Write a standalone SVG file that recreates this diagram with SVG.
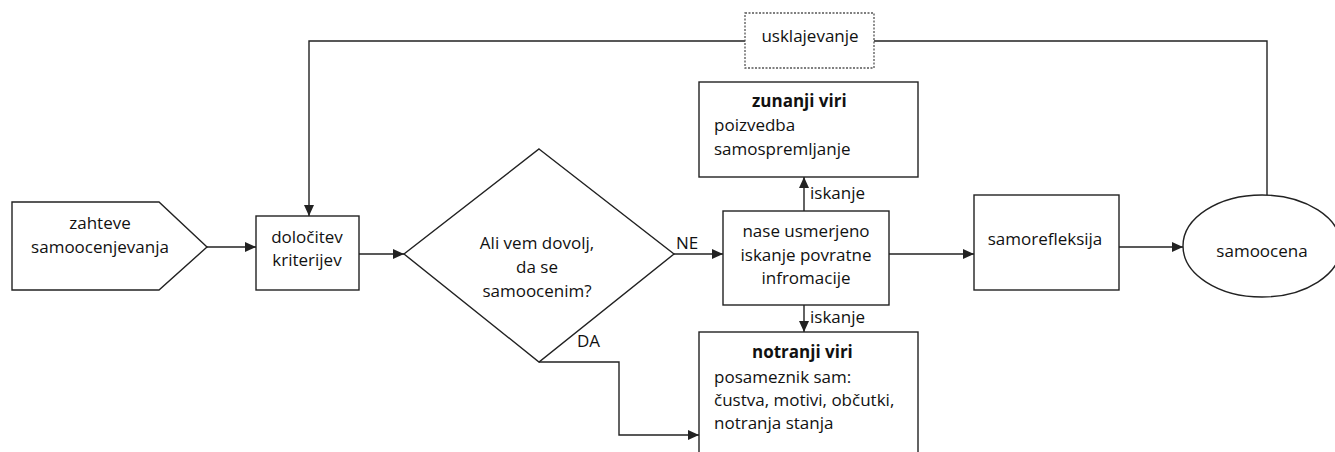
<svg xmlns="http://www.w3.org/2000/svg" width="1335" height="452" viewBox="0 0 1335 452">
<style>
  .shape { fill: #ffffff; stroke: #222222; stroke-width: 1.4; }
  .dash { fill: #ffffff; stroke: #555555; stroke-width: 1.3; stroke-dasharray: 2 1.5; }
  .conn { fill: none; stroke: #222222; stroke-width: 1.4; }
  text { font-family: "Open Sans", "Liberation Sans", sans-serif; font-size: 17px; fill: #111111; }
  .c { text-anchor: middle; }
  .b { font-weight: bold; }
</style>
<defs>
  <marker id="arr" markerUnits="userSpaceOnUse" markerWidth="11" markerHeight="10" refX="11" refY="5" orient="auto">
    <path d="M0,0 L11,5 L0,10 z" fill="#222222"/>
  </marker>
</defs>
<rect width="1335" height="452" fill="#ffffff"/>

<g id="connectors">
  <path class="conn" d="M207,247 H256" marker-end="url(#arr)"/>
  <path class="conn" d="M359,254 H404" marker-end="url(#arr)"/>
  <path class="conn" d="M674,254 H723" marker-end="url(#arr)"/>
  <path class="conn" d="M804,211 V177" marker-end="url(#arr)"/>
  <path class="conn" d="M804,305 V332" marker-end="url(#arr)"/>
  <path class="conn" d="M539,362 H619 V435 H699" marker-end="url(#arr)"/>
  <path class="conn" d="M889,254 H974" marker-end="url(#arr)"/>
  <path class="conn" d="M1119,247 H1183" marker-end="url(#arr)"/>
  <path class="conn" d="M1267,195 V41 H874"/>
  <path class="conn" d="M745,41 H309 V216" marker-end="url(#arr)"/>
  <text x="676" y="249">NE</text>
  <text x="577" y="347">DA</text>
  <text x="810" y="199">iskanje</text>
  <text x="810" y="323">iskanje</text>
</g>

<g id="zahteve">
  <path class="shape" d="M12,202 H159 L207,247 L159,290 H12 Z"/>
  <text class="c" x="100" y="229">zahteve</text>
  <text class="c" x="100" y="253">samoocenjevanja</text>
</g>

<g id="dolocitev">
  <rect class="shape" x="256" y="216" width="103" height="74"/>
  <text class="c" x="307" y="243">določitev</text>
  <text class="c" x="307" y="266">kriterijev</text>
</g>

<g id="diamond">
  <path class="shape" d="M539,149 L674,254 L539,362 L404,254 Z"/>
  <text class="c" x="537" y="249">Ali vem dovolj,</text>
  <text class="c" x="537" y="273">da se</text>
  <text class="c" x="537" y="297">samoocenim?</text>
</g>

<g id="usklajevanje">
  <rect class="dash" x="745" y="13" width="129" height="55"/>
  <text class="c" x="810" y="42">usklajevanje</text>
</g>

<g id="zunanji">
  <rect class="shape" x="699" y="82" width="219" height="95"/>
  <text class="b" x="752" y="107">zunanji viri</text>
  <text x="714" y="131">poizvedba</text>
  <text x="714" y="155">samospremljanje</text>
</g>

<g id="nase">
  <rect class="shape" x="723" y="211" width="166" height="94"/>
  <text class="c" x="806" y="237">nase usmerjeno</text>
  <text class="c" x="806" y="261">iskanje povratne</text>
  <text class="c" x="806" y="284">infromacije</text>
</g>

<g id="notranji">
  <rect class="shape" x="699" y="332" width="219" height="130"/>
  <text class="b" x="752" y="358">notranji viri</text>
  <text x="714" y="383">posameznik sam:</text>
  <text x="714" y="406">čustva, motivi, občutki,</text>
  <text x="714" y="429">notranja stanja</text>
</g>

<g id="samorefleksija">
  <rect class="shape" x="974" y="195" width="145" height="95"/>
  <text class="c" x="1045" y="245">samorefleksija</text>
</g>

<g id="samoocena">
  <ellipse class="shape" cx="1262" cy="246" rx="79" ry="51"/>
  <text class="c" x="1262" y="257">samoocena</text>
</g>
</svg>
